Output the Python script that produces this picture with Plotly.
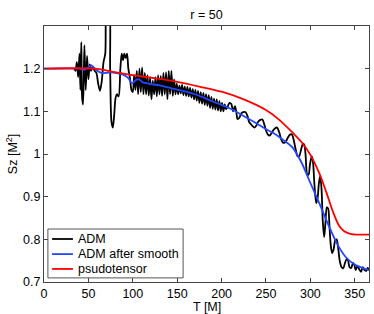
import plotly.graph_objects as go

# ---- data ----
adm_t = [34, 35.5, 37, 38.5, 40, 41, 42, 43, 44, 45.5, 47, 48.5, 50, 51.5, 53, 55, 57, 59, 61, 63,
         65, 67, 69, 71, 73, 74.5, 76, 77.5, 79, 80.5, 82, 84, 86, 87.5, 89, 90.5, 92, 93.5, 95, 97,
         98.5, 100,
         101.5, 103, 104.5, 106, 107.5, 109, 110.5, 112, 113.5, 115, 116.5, 118, 119.5, 121, 122.5,
         124, 125.5, 127, 128.5, 130, 131.5, 133, 134.5, 136, 137.5, 139, 140.5, 142, 143.5, 145,
         146.5, 148, 149.5, 151, 152.5, 154, 155.5, 157, 158.5, 160, 161.5, 163, 164.5, 166, 167.5,
         169, 170.5, 172, 173.5, 175, 176.5, 178, 179.5, 181, 182.5, 184, 185.5, 187, 188.5, 190,
         191.5, 193, 194.5, 196, 197.5, 199, 200.5, 202, 203.5,
         205, 207, 209, 211, 213, 215, 216.5, 218, 220, 222, 224.5, 227, 229, 231, 233, 235, 237,
         239, 241, 243.5, 246, 248, 250, 252, 254, 256, 258, 260, 262.5, 265, 267, 269, 270.5,
         272.5, 275, 277.5, 279.5, 281.5, 283.5, 285.5, 287.5, 289.5, 291.5, 293, 294.5, 296.5, 298,
         299.5, 301.5, 303, 304.5, 306.5, 308, 309.5, 311, 312.5, 314, 315.5, 317, 318.5, 320,
         321.5, 323, 324.5, 326, 328, 329.5, 331, 333, 335, 337, 339, 341, 342.5, 344, 346, 348,
         349.5, 351, 353, 355, 357, 359, 361, 363, 364.5, 366]
adm_s = [1.200, 1.195, 1.215, 1.180, 1.235, 1.150, 1.262, 1.130, 1.116, 1.255, 1.150, 1.230, 1.175,
         1.210, 1.195, 1.205, 1.195, 1.190, 1.165, 1.148, 1.170, 1.215, 1.235, 1.360, 1.360, 1.200,
         1.075, 1.062, 1.090, 1.130, 1.140, 1.135, 1.200, 1.235, 1.220, 1.235, 1.225, 1.235, 1.200,
         1.175, 1.150, 1.145,
         1.185, 1.150, 1.195, 1.140, 1.200, 1.145, 1.203, 1.140, 1.190, 1.140, 1.185, 1.137, 1.180,
         1.128, 1.172, 1.140, 1.180, 1.135, 1.185, 1.140, 1.183, 1.136, 1.190, 1.140, 1.192, 1.128,
         1.195, 1.140, 1.195, 1.136, 1.175, 1.140, 1.165, 1.140, 1.160, 1.142, 1.162, 1.138, 1.158,
         1.136, 1.157, 1.135, 1.155, 1.132, 1.152, 1.128, 1.150, 1.125, 1.148, 1.120, 1.145, 1.118,
         1.143, 1.115, 1.140, 1.113, 1.138, 1.108, 1.134, 1.106, 1.130, 1.104, 1.128, 1.102, 1.124,
         1.100, 1.120, 1.100, 1.116,
         1.105, 1.112, 1.120, 1.117, 1.100, 1.112, 1.100, 1.082, 1.085, 1.095, 1.098, 1.098, 1.090,
         1.075, 1.070, 1.065, 1.062, 1.066, 1.075, 1.080, 1.081, 1.070, 1.055, 1.046, 1.043, 1.048,
         1.055, 1.060, 1.062, 1.050, 1.035, 1.027, 1.026, 1.030, 1.040, 1.046, 1.045, 1.030, 1.010,
         0.995, 0.995, 1.010, 1.024, 1.022, 1.000, 0.952, 0.952, 0.975, 0.995, 0.980, 0.930, 0.885,
         0.895, 0.930, 0.948, 0.920, 0.840, 0.805, 0.840, 0.875, 0.872, 0.830, 0.785, 0.768, 0.775,
         0.798, 0.800, 0.785, 0.750, 0.735, 0.732, 0.745, 0.755, 0.750, 0.735, 0.733, 0.745, 0.740,
         0.728, 0.738, 0.730, 0.724, 0.735, 0.728, 0.726, 0.733, 0.727]

smooth_t = [0, 40, 45, 50, 53, 56, 60, 65, 70, 75, 80, 85, 90, 95, 98, 100, 103, 107, 111, 115,
            120, 130, 140, 150, 160, 170, 180, 190, 200, 210, 220, 230, 240, 250, 260, 270, 280,
            290, 300, 310, 320, 330, 340, 350, 360, 366]
smooth_s = [1.200, 1.200, 1.197, 1.203, 1.208, 1.203, 1.195, 1.190, 1.190, 1.192, 1.190, 1.188,
            1.185, 1.178, 1.168, 1.166, 1.173, 1.175, 1.168, 1.166, 1.164, 1.161, 1.156, 1.151,
            1.146, 1.140, 1.132, 1.123, 1.115, 1.106, 1.095, 1.083, 1.071, 1.058, 1.047, 1.032,
            1.015, 0.980, 0.932, 0.885, 0.835, 0.790, 0.758, 0.741, 0.732, 0.728]

pseudo_t = [0, 57, 80, 100, 130, 150, 175, 200, 225, 250, 265, 280, 290, 300, 310, 318, 325, 332,
            338, 345, 355, 366]
pseudo_s = [1.200, 1.200, 1.192, 1.185, 1.176, 1.169, 1.158, 1.146, 1.128, 1.103, 1.080, 1.050,
            1.028, 0.998, 0.955, 0.910, 0.867, 0.833, 0.819, 0.813, 0.811, 0.811]

series_names = ["ADM", "ADM after smooth", "psudotensor"]
series_colors = ["black", "rgb(35,70,255)", "rgb(255,0,0)"]

x_ticks = [0, 50, 100, 150, 200, 250, 300, 350]
y_ticks = [0.7, 0.8, 0.9, 1.0, 1.1, 1.2]
y_ticktext = ["0.7", "0.8", "0.9", "1", "1.1", "1.2"]

FONT = "Liberation Sans, Arial, Helvetica, sans-serif"
FS = 12.5

fig = go.Figure()
for t, s, nm, col in zip([adm_t, smooth_t, pseudo_t], [adm_s, smooth_s, pseudo_s],
                         series_names, series_colors):
    fig.add_trace(go.Scatter(x=t, y=s, mode="lines", name=nm, showlegend=False,
                             line=dict(color=col, width=1.8, shape="spline", smoothing=0.8)))

axis_common = dict(showgrid=False, zeroline=False, showline=True, linecolor="#444",
                   linewidth=1, mirror="ticks", ticks="inside", ticklen=4, tickcolor="#444",
                   automargin=False,
                   tickfont=dict(family=FONT, size=FS, color="black"))

# compact legend box (paper coordinates), styled like the original
shapes = [dict(type="rect", xref="paper", yref="paper", x0=0.012, x1=0.428, y0=0.016, y1=0.207,
               line=dict(color="#555", width=1), fillcolor="white", layer="above")]
annotations = []
row_y = [0.168, 0.109, 0.051]
for nm, col, yy in zip(series_names, series_colors, row_y):
    shapes.append(dict(type="line", xref="paper", yref="paper", x0=0.025, x1=0.089, y0=yy, y1=yy,
                       line=dict(color=col, width=1.8), layer="above"))
    annotations.append(dict(text=nm, xref="paper", yref="paper", x=0.097, y=yy, xanchor="left",
                            yanchor="middle", showarrow=False,
                            font=dict(family=FONT, size=FS, color="black")))

annotations.append(dict(text="T [M]", xref="paper", yref="paper", x=0.5, y=-0.097,
                        xanchor="center", yanchor="middle", showarrow=False,
                        font=dict(family=FONT, size=FS, color="black")))
annotations.append(dict(text="Sz [M<sup>2</sup>]", xref="paper", yref="paper", x=-0.098, y=0.5,
                        xanchor="center", yanchor="middle", textangle=-90, showarrow=False,
                        font=dict(family=FONT, size=FS, color="black")))

fig.update_layout(
    width=374, height=314,
    margin=dict(l=44, r=5, t=26, b=32),
    paper_bgcolor="white", plot_bgcolor="white",
    font=dict(family=FONT, size=FS, color="black"),
    title=dict(text="r = 50", x=0.552, xanchor="center", y=0.955, yanchor="middle",
               font=dict(family=FONT, size=FS, color="black")),
    xaxis=dict(range=[0, 366], tickvals=x_ticks, **axis_common),
    yaxis=dict(range=[0.7, 1.3], tickvals=y_ticks, ticktext=y_ticktext, **axis_common),
    shapes=shapes,
    annotations=annotations,
    showlegend=False,
)

fig.write_html("out.html", config={"displayModeBar": False},
               post_script="document.body.style.margin='0';document.body.style.overflow='hidden';")
